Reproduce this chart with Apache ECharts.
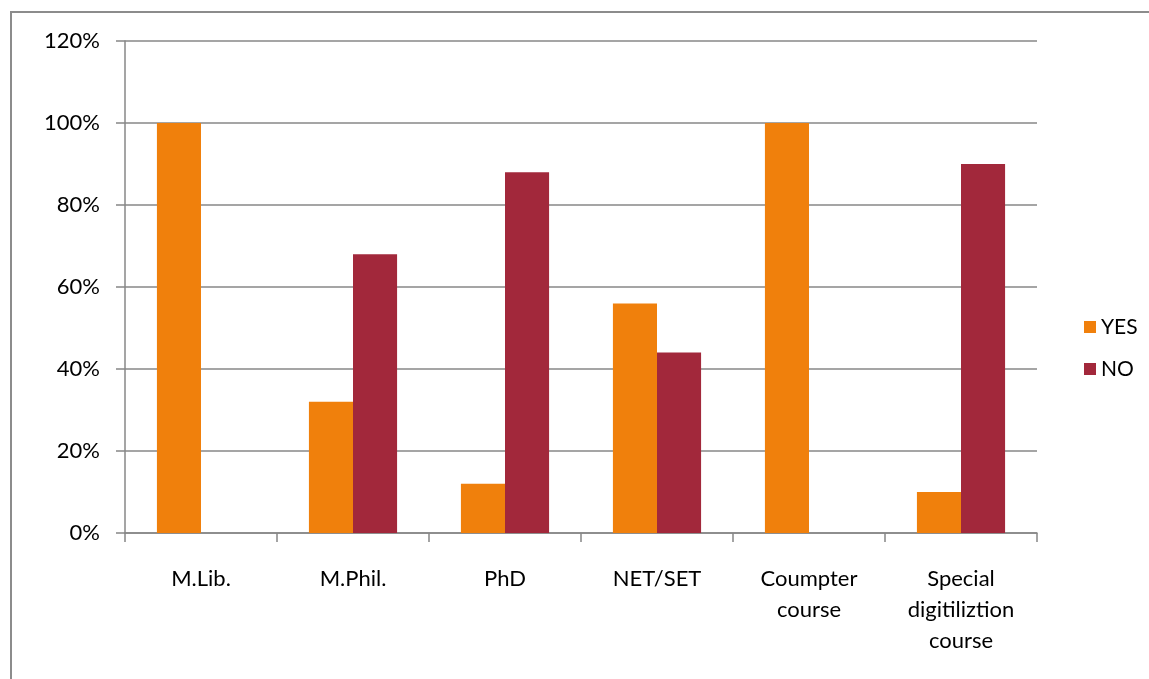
<!DOCTYPE html>
<html>
<head>
<meta charset="utf-8">
<script src="https://cdn.jsdelivr.net/npm/echarts@6/dist/echarts.min.js"></script>
<style>
  html, body { margin: 0; padding: 0; background: #fff; }
  #chart { width: 1149px; height: 679px; }
</style>
</head>
<body>
<div id="chart"></div>
<script>
// Course categories along the x axis
const categories = ['M.Lib.', 'M.Phil.', 'PhD', 'NET/SET', 'Coumpter\ncourse', 'Special\ndigitiliztion\ncourse'];
// Share of respondents answering YES / NO (percent)
const yesValues = [100, 32, 12, 56, 100, 10];
const noValues = [0, 68, 88, 44, 0, 90];
const seriesNames = ['YES', 'NO'];

const font = 'Lato, "Open Sans", sans-serif';
const axisGray = '#878787';

const chart = echarts.init(document.getElementById('chart'));
chart.setOption({
  animation: false,
  textStyle: { fontFamily: font },
  graphic: [{
    type: 'rect',
    shape: { x: 11, y: 12, width: 1200, height: 700 },
    style: { fill: 'none', stroke: '#8c8c8c', lineWidth: 2 },
    silent: true
  }],
  grid: { left: 125, right: 112, top: 41, bottom: 146, containLabel: false },
  legend: {
    orient: 'vertical',
    left: 1079,
    top: 311,
    itemWidth: 12,
    itemHeight: 12,
    itemGap: 20,
    icon: 'rect',
    textStyle: { fontSize: 21, lineHeight: 22, color: '#000', fontFamily: font, padding: [0, 0, 0, 0] },
    data: seriesNames
  },
  xAxis: {
    type: 'category',
    data: categories,
    axisLine: { lineStyle: { color: axisGray, width: 1.5 } },
    axisTick: { show: true, length: 9, alignWithLabel: false, lineStyle: { color: axisGray, width: 1.5 } },
    axisLabel: { fontSize: 22, color: '#000', lineHeight: 31, margin: 30, interval: 0, fontFamily: font }
  },
  yAxis: {
    type: 'value',
    min: 0,
    max: 120,
    interval: 20,
    axisLine: { show: true, lineStyle: { color: axisGray, width: 1.5 } },
    axisTick: { show: true, length: 9, inside: false, lineStyle: { color: axisGray, width: 1.5 } },
    splitLine: { lineStyle: { color: axisGray, width: 1.5 } },
    axisLabel: { fontSize: 22, color: '#000', margin: 25, formatter: '{value}%', fontFamily: font }
  },
  series: [
    {
      name: seriesNames[0],
      type: 'bar',
      data: yesValues,
      itemStyle: { color: '#F0800C' },
      barGap: '0%',
      barCategoryGap: '42%'
    },
    {
      name: seriesNames[1],
      type: 'bar',
      data: noValues,
      itemStyle: { color: '#A2283B' },
      barGap: '0%',
      barCategoryGap: '42%'
    }
  ]
});
</script>
</body>
</html>
